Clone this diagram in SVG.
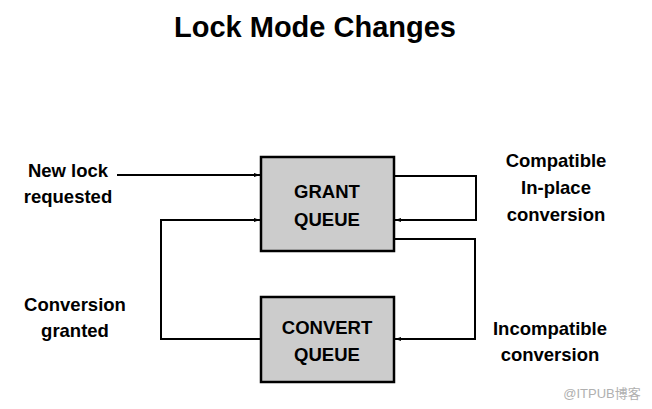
<svg xmlns="http://www.w3.org/2000/svg" width="652" height="409" viewBox="0 0 652 409">
<style>
.t{font-family:"Liberation Sans",Arial,sans-serif;font-weight:bold;fill:#000;text-anchor:middle}
.lbl{font-size:18.5px}
.box{fill:#cccccc;stroke:#000;stroke-width:2.5}
.ln{fill:none;stroke:#000;stroke-width:2}
</style>
<defs>
<marker id="ah" viewBox="0 0 10 10" refX="10" refY="5" markerWidth="6" markerHeight="6" markerUnits="userSpaceOnUse" orient="auto">
<path d="M0,1.5 L10,5 L0,8.5 z" fill="#000"/>
</marker>
</defs>
<rect width="652" height="409" fill="#fff"/>
<text class="t" x="315" y="37" font-size="29">Lock Mode Changes</text>
<g id="connectors">
<path class="ln" d="M117,175 H260" marker-end="url(#ah)"/>
<path class="ln" d="M260,339 H161 V220 H260" marker-end="url(#ah)"/>
<path class="ln" d="M395,176 H476 V220 H395" marker-end="url(#ah)"/>
<path class="ln" d="M395,239 H475 V339 H395" marker-end="url(#ah)"/>
</g>
<g id="grant">
<rect class="box" x="261" y="157" width="133" height="94"/>
<text class="t lbl" x="327" y="198">GRANT</text>
<text class="t lbl" x="327" y="226">QUEUE</text>
</g>
<g id="convert">
<rect class="box" x="261" y="297" width="133" height="85"/>
<text class="t lbl" x="327" y="334">CONVERT</text>
<text class="t lbl" x="327" y="361">QUEUE</text>
</g>
<g id="label-new">
<text class="t lbl" x="68" y="177">New lock</text>
<text class="t lbl" x="68" y="203">requested</text>
</g>
<g id="label-compatible">
<text class="t lbl" x="556" y="167">Compatible</text>
<text class="t lbl" x="556" y="194">In-place</text>
<text class="t lbl" x="556" y="221">conversion</text>
</g>
<g id="label-granted">
<text class="t lbl" x="75" y="311">Conversion</text>
<text class="t lbl" x="75" y="337">granted</text>
</g>
<g id="label-incompatible">
<text class="t lbl" x="550" y="335">Incompatible</text>
<text class="t lbl" x="550" y="361">conversion</text>
</g>
<text x="602" y="398" font-family="'Liberation Sans','Noto Sans CJK SC',sans-serif" font-size="13" fill="#b0b0b0" text-anchor="middle">@ITPUB博客</text>
</svg>
